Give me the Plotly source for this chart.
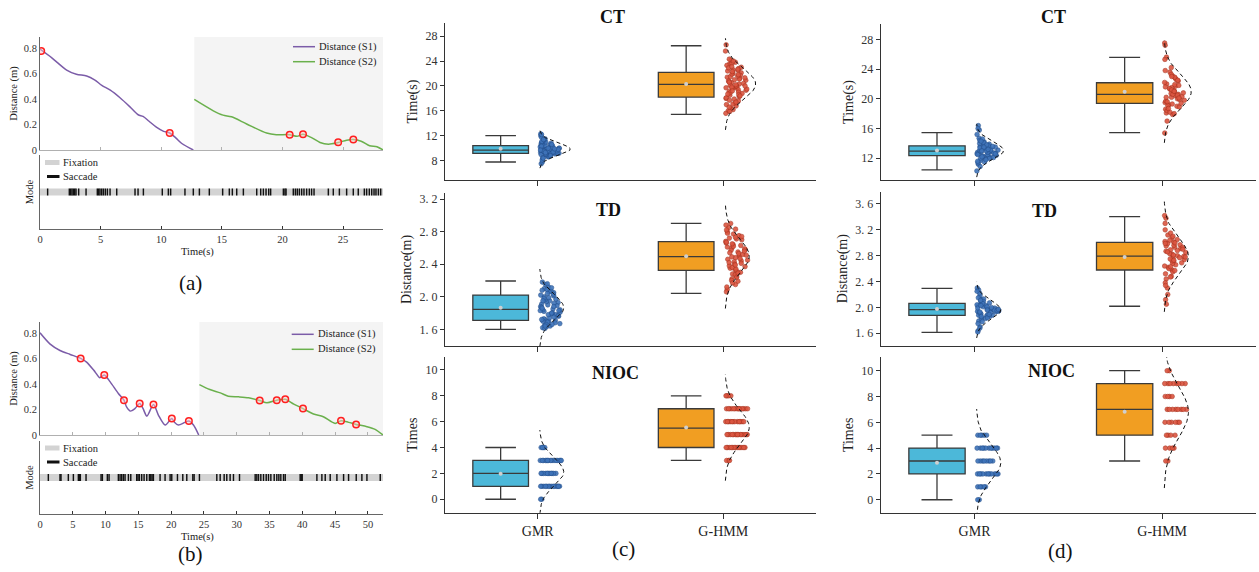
import numpy as np
import plotly.graph_objects as go

W, H = 1259, 572
FONT = "Liberation Serif"

# ------------------------------------------------------------------ data (a)
a_s1_t = [0, 1.0, 2.2, 3.0, 3.85, 4.5, 5.1, 5.8, 6.6, 7.4, 8.1, 8.5, 9.0, 9.6, 10.2, 10.7, 11.2, 11.7, 12.65]
a_s1_d = [0.79, 0.72, 0.626, 0.593, 0.58, 0.55, 0.506, 0.468, 0.409, 0.34, 0.276, 0.263, 0.225, 0.179, 0.146, 0.133, 0.095, 0.051, 0.0]
a_s2_t = [12.73, 14.3, 15.1, 15.8, 17.05, 18.7, 19.5, 20.6, 21.2, 21.7, 22.4, 23.1, 23.8, 24.6, 25.3, 25.85, 26.5, 27.2, 27.8, 28.3]
a_s2_d = [0.396, 0.307, 0.273, 0.26, 0.204, 0.133, 0.12, 0.12, 0.107, 0.123, 0.097, 0.059, 0.046, 0.059, 0.077, 0.082, 0.069, 0.033, 0.026, 0.0]
a_mark_t = [0.1, 10.7, 20.6, 21.7, 24.6, 25.85]
a_mark_d = [0.775, 0.133, 0.12, 0.123, 0.06, 0.082]
a_end = 28.3
a_saccades = [0.63, 2.42, 2.53, 2.64, 2.75, 2.86, 2.97, 3.19, 3.80, 4.73, 4.84, 4.95, 5.09, 5.23, 5.39,
              5.56, 5.78, 6.33, 7.84, 8.09, 8.53, 10.09, 10.59, 10.78, 11.96, 12.65, 13.15, 13.97,
              15.07, 15.62, 15.87, 16.23, 16.78, 17.88, 18.21, 18.43, 18.65, 18.87, 19.03, 20.08,
              20.21, 20.30, 20.90, 21.07, 21.23, 21.40, 21.59, 21.78, 22.00, 22.22, 22.41, 22.61,
              23.79, 24.20, 24.70, 25.30, 25.85, 26.26, 26.76, 26.95, 27.17, 27.37, 27.56, 27.72,
              27.92, 28.11]

# ------------------------------------------------------------------ data (b)
b_s1_t = [0, 1.5, 3.05, 4.6, 6.2, 7.1, 8.4, 9.1, 9.8, 10.7, 11.95, 12.8, 13.2, 13.8, 14.5, 15.2, 15.7,
          16.3, 17.3, 18.05, 19.1, 20.1, 20.5, 21.1, 22.1, 22.7, 23.4, 24.2]
b_s1_d = [0.80, 0.714, 0.662, 0.631, 0.60, 0.571, 0.494, 0.449, 0.47, 0.416, 0.325, 0.273, 0.22, 0.187,
          0.208, 0.247, 0.208, 0.148, 0.239, 0.156, 0.078, 0.13, 0.100, 0.078, 0.099, 0.109, 0.078, 0.0]
b_s2_t = [24.3, 25.9, 27.5, 28.7, 30.3, 31.8, 33.5, 34.6, 36.1, 37.4, 38.7, 40.1, 41.7, 43.2, 45.0,
          45.9, 47.05, 48.2, 49.85, 51.1, 52.3]
b_s2_d = [0.395, 0.356, 0.33, 0.304, 0.299, 0.291, 0.27, 0.252, 0.273, 0.28, 0.242, 0.207, 0.164,
          0.143, 0.091, 0.112, 0.099, 0.083, 0.065, 0.044, 0.0]
b_mark_t = [6.2, 9.8, 12.8, 15.2, 17.3, 20.1, 22.7, 33.5, 36.1, 37.4, 40.1, 45.9, 48.2]
b_mark_d = [0.60, 0.47, 0.273, 0.247, 0.239, 0.13, 0.109, 0.27, 0.273, 0.28, 0.207, 0.112, 0.083]
b_end = 52.3
b_saccades = [1.27, 3.05, 3.2, 4.32, 5.09, 5.85, 6.0, 6.15, 7.02, 9.31, 9.51, 10.27, 10.53, 11.95,
              12.21, 12.46, 12.72, 12.97, 13.48, 13.84, 14.75, 14.95, 15.16, 15.51, 15.87, 16.28,
              16.68, 16.89, 17.09, 17.29, 18.31, 19.07, 19.84, 20.09, 20.96, 21.77, 22.38, 23.30,
              23.50, 24.31, 26.96, 27.47, 28.08, 28.48, 28.99, 29.50, 30.42, 32.81, 33.06, 33.32,
              33.67, 34.08, 34.49, 34.84, 35.20, 35.71, 36.11, 36.42, 36.72, 37.13, 37.39, 39.67,
              39.83, 39.98, 42.22, 42.98, 43.49, 44.25, 45.27, 46.29, 47.05, 48.22, 49.08, 49.85,
              51.88]

# ------------------------------------------------------------------ data (c)/(d)
categories = ["GMR", "G-HMM"]

c_ct_gmr = [9.7, 10.2, 9.1, 9.8, 10.5, 8.9, 9.4, 10.0, 11.2, 9.6, 8.6, 10.8, 9.3, 9.9, 12.3, 7.5, 10.1,
            9.5, 8.8, 10.4, 9.2, 11.0, 9.7, 10.6, 8.3, 9.0, 10.3, 9.8, 11.5, 9.4, 10.9, 8.7, 9.6, 10.2,
            9.1, 12.0, 7.8, 9.9, 10.7, 9.3, 8.5, 10.0, 11.3, 9.5, 10.4, 8.9, 9.7, 10.1, 11.8, 9.2, 8.1,
            10.5, 9.6, 9.0, 10.8, 9.4, 11.1, 9.8, 8.4, 10.3, 9.9, 9.1, 10.6, 12.2, 9.5, 8.8, 10.0, 9.7,
            11.4, 9.3]
c_ct_ghmm = [20.3, 18.5, 22.1, 19.7, 21.4, 17.2, 23.5, 20.9, 16.4, 19.1, 22.8, 21.0, 18.0, 24.1, 20.5,
             17.6, 19.9, 22.4, 21.7, 16.0, 23.0, 19.4, 20.1, 18.8, 22.6, 15.6, 21.2, 19.6, 23.8, 17.9,
             20.7, 18.3, 22.0, 25.6, 19.0, 21.5, 16.8, 20.0, 23.3, 18.6, 21.9, 19.3, 17.1, 22.9, 20.4,
             26.6, 18.1, 21.1, 19.8, 16.2, 23.6, 20.8, 17.4, 22.3, 19.5, 21.6, 18.9, 24.0, 20.2, 17.0,
             22.5, 19.2, 21.3, 15.9, 20.6, 18.4, 23.1, 19.7, 21.8, 17.7, 20.0, 24.3, 18.7, 22.7, 16.6]
c_td_gmr = [1.85, 1.72, 2.05, 1.63, 1.91, 1.78, 2.10, 1.67, 1.95, 1.82, 2.01, 1.70, 1.88, 2.15, 1.65,
            1.76, 1.99, 1.84, 2.07, 1.69, 1.93, 1.80, 1.62, 2.03, 1.74, 1.87, 2.12, 1.66, 1.97, 1.79,
            2.08, 1.71, 1.90, 1.83, 1.64, 2.00, 1.77, 2.18, 1.86, 1.68, 1.94, 1.81, 2.06, 1.73, 1.89,
            1.61, 2.02, 1.75, 1.96, 1.84, 2.09, 1.70, 1.92, 1.78, 2.16, 1.66, 1.98, 1.83, 2.04, 1.72,
            1.88, 1.64, 2.11, 1.80, 1.95]
c_td_ghmm = [2.50, 2.35, 2.70, 2.22, 2.61, 2.44, 2.85, 2.15, 2.55, 2.38, 2.75, 2.28, 2.66, 2.47, 2.09,
             2.58, 2.33, 2.80, 2.41, 2.64, 2.19, 2.53, 2.72, 2.30, 2.48, 2.88, 2.25, 2.60, 2.37, 2.77,
             2.12, 2.52, 2.43, 2.68, 2.31, 2.57, 2.83, 2.20, 2.46, 2.63, 2.36, 2.74, 2.27, 2.54, 2.90,
             2.40, 2.67, 2.17, 2.49, 2.59, 2.34, 2.78, 2.24, 2.62, 2.45, 2.71, 2.06, 2.56, 2.39, 2.82,
             2.29, 2.65, 2.51, 2.73, 2.42]
c_nioc_gmr_levels = [0, 1, 2, 3, 4]
c_nioc_gmr_counts = [2, 14, 11, 15, 4]
c_nioc_ghmm_levels = [3, 4, 5, 6, 7, 8]
c_nioc_ghmm_counts = [3, 13, 14, 12, 14, 4]

d_ct_gmr = [12.9, 13.4, 12.1, 13.8, 12.6, 14.2, 11.7, 13.1, 12.4, 13.6, 12.0, 14.7, 12.8, 13.3, 11.2,
            13.9, 12.5, 13.0, 16.4, 12.2, 13.5, 11.9, 14.0, 12.7, 13.2, 10.3, 13.7, 12.3, 15.8, 12.9,
            13.4, 11.5, 14.4, 12.6, 13.1, 12.0, 13.6, 12.8, 15.2, 11.8, 13.3, 12.4, 14.1, 12.9, 10.9,
            13.0, 12.5, 13.8, 12.2, 14.6, 13.2, 11.4, 12.7, 13.5, 12.1, 16.0, 13.0, 12.6, 14.3, 11.6]
d_ct_ghmm = [20.6, 19.2, 22.4, 21.0, 18.6, 23.1, 20.2, 19.8, 21.7, 18.1, 22.8, 20.9, 19.5, 23.6, 21.3,
             17.9, 20.4, 22.0, 19.0, 21.5, 24.2, 20.0, 18.4, 22.6, 21.1, 19.7, 23.3, 20.7, 18.9, 21.9,
             27.5, 20.3, 19.3, 22.2, 17.0, 21.4, 20.8, 18.2, 23.8, 19.9, 21.2, 25.6, 20.5, 19.1, 22.9,
             15.4, 21.6, 20.1, 18.7, 22.5, 27.2, 19.6, 21.8, 20.6, 18.0, 23.0, 25.3, 19.4, 21.0, 20.2]
d_td_gmr = [1.96, 2.05, 1.88, 2.12, 1.92, 1.83, 2.01, 1.97, 2.18, 1.90, 1.86, 2.08, 1.94, 2.27, 1.79,
            1.99, 2.03, 1.91, 1.70, 2.10, 1.95, 1.87, 2.15, 1.93, 1.64, 2.02, 1.98, 1.85, 2.07, 1.89,
            2.30, 1.96, 1.82, 2.04, 1.92, 1.75, 2.13, 1.97, 1.88, 2.00, 1.62, 1.94, 2.09, 1.90, 1.84,
            2.06, 1.99, 2.22, 1.86, 1.95, 2.01, 1.93, 1.78, 2.11, 1.97, 1.89, 2.03, 1.68, 1.96, 2.25]
d_td_ghmm = [2.80, 2.62, 3.05, 2.71, 2.95, 2.48, 3.12, 2.85, 2.58, 2.99, 2.30, 2.76, 3.02, 2.66, 2.89,
             2.20, 2.93, 3.20, 2.55, 2.82, 2.74, 3.08, 2.44, 2.97, 2.68, 2.87, 3.38, 2.60, 2.79, 3.01,
             2.38, 2.91, 2.72, 2.64, 3.15, 2.83, 2.05, 2.96, 2.52, 2.77, 3.04, 2.69, 2.88, 3.30, 2.57,
             2.81, 2.99, 2.47, 2.75, 2.93, 2.12, 2.86, 3.10, 2.63, 2.78, 3.00, 2.34, 2.90, 2.73, 3.42]
d_nioc_gmr_levels = [0, 1, 2, 3, 4, 5]
d_nioc_gmr_counts = [2, 5, 11, 8, 11, 5]
d_nioc_ghmm_levels = [3, 4, 5, 6, 7, 8, 9, 10]
d_nioc_ghmm_counts = [2, 4, 4, 6, 8, 4, 8, 2]

# box statistics: [GMR, G-HMM]
c_ct_box = dict(lower=[7.79, 15.43], q1=[9.18, 18.21], median=[9.71, 20.25], q3=[10.41, 22.17], upper=[12.01, 26.45], mean=[9.93, 20.3])
c_td_box = dict(lower=[1.60, 2.042], q1=[1.71, 2.324], median=[1.846, 2.492], q3=[2.021, 2.676], upper=[2.193, 2.90], mean=[1.866, 2.496])
c_nioc_box = dict(lower=[0, 3], q1=[1, 4], median=[2, 5.5], q3=[3, 7], upper=[4, 8], mean=[1.98, 5.54])
d_ct_box = dict(lower=[10.45, 15.44], q1=[12.35, 19.39], median=[12.95, 20.6], q3=[13.68, 22.16], upper=[15.44, 25.57], mean=[13.05, 20.95])
d_td_box = dict(lower=[1.615, 2.018], q1=[1.878, 2.579], median=[1.965, 2.795], q3=[2.064, 3.007], upper=[2.296, 3.403], mean=[1.976, 2.78])
d_nioc_box = dict(lower=[0, 3], q1=[2, 5], median=[3, 7], q3=[4, 9], upper=[5, 10], mean=[2.87, 6.82])

ct_ticks_c = [8, 12, 16, 20, 24, 28]
ct_ticks_d = [12, 16, 20, 24, 28]
td_ticks_c = [1.6, 2.0, 2.4, 2.8, 3.2]
td_ticks_d = [1.6, 2.0, 2.4, 2.8, 3.2, 3.6]
nioc_ticks = [0, 2, 4, 6, 8, 10]

# ------------------------------------------------------------------ helpers
def PX(x):
    return x / W


def PY(y):
    return 1 - y / H


def expand(levels, counts):
    return list(np.repeat(levels, counts).astype(float))


AX = dict(showgrid=False, zeroline=False, showline=True, linecolor="#333333", linewidth=1.2,
          tickfont=dict(family=FONT, size=12, color="#222222"), tickcolor="#333333")

# pixel boxes: (left, right, top, bottom)
boxes = {
    1: (40, 383, 37, 150),      # a top
    2: (40, 383, 155, 229),     # a mode
    3: (40, 383, 322, 435),     # b top
    4: (40, 383, 441, 514),     # b mode
    5: (445, 816, 23, 180),     # c CT
    6: (445, 816, 193, 346),    # c TD
    7: (445, 816, 357, 512.7),  # c NIOC
    8: (880.7, 1256, 24, 180),  # d CT
    9: (880.7, 1256, 191.7, 345.7),  # d TD
    10: (880.7, 1256, 357, 512.7),   # d NIOC
}

layout = dict(width=W, height=H, margin=dict(l=0, r=0, t=0, b=0, autoexpand=False),
              paper_bgcolor="white", plot_bgcolor="white",
              font=dict(family=FONT, color="#222222", size=12), showlegend=False,
              annotations=[], shapes=[])


def key(n, ax):
    return f"{ax}axis" + ("" if n == 1 else str(n))


def ref(n, ax):
    return ax + ("" if n == 1 else str(n))


for n, (l, r, t, b) in boxes.items():
    layout[key(n, "x")] = dict(AX, domain=[PX(l), PX(r)], anchor=ref(n, "y"))
    layout[key(n, "y")] = dict(AX, domain=[PY(b), PY(t)], anchor=ref(n, "x"))

traces = []


def text(s, x, y, size, xanchor="center", bold=False, color="#222222"):
    layout["annotations"].append(dict(text=("<b>%s</b>" % s) if bold else s, x=PX(x), y=PY(y),
                                      xref="paper", yref="paper", showarrow=False, xanchor=xanchor,
                                      yanchor="middle", font=dict(family=FONT, size=size, color=color)))


def legend_key(x0, x1, y, color, width):
    layout["shapes"].append(dict(type="line", xref="paper", yref="paper", x0=PX(x0), x1=PX(x1),
                                 y0=PY(y), y1=PY(y), line=dict(color=color, width=width)))


# ------------------------------------------------------------------ (a) and (b)
S1_COL, S2_COL = "#7b5ca8", "#6ab04c"


def line_panel(n_top, n_mode, s1t, s1d, s2t, s2d, mt, md, end, sacc, half, dticks,
               leg_top_y, leg_mode_y, time_y, leg_x):
    xt, yt = key(n_top, "x"), key(n_top, "y")
    xm, ym = key(n_mode, "x"), key(n_mode, "y")
    tf = dict(family=FONT, size=10.5, color="#333")
    layout[xt].update(range=[0, end], showticklabels=False, ticks="inside", ticklen=3, tickvals=dticks,
                      linecolor="#b0b0b0", linewidth=1, tickcolor="#b0b0b0")
    layout[yt].update(range=[0, 0.885], tickvals=[0, 0.2, 0.4, 0.6, 0.8],
                      ticktext=["0", "0.2", "0.4", "0.6", "0.8"], ticks="", tickfont=tf,
                      linecolor="#666", linewidth=1,
                      title=dict(text="Distance (m)", font=dict(family=FONT, size=10.5), standoff=4))
    layout[xm].update(range=[0, end], tickvals=dticks, ticks="inside", ticklen=3, tickfont=tf,
                      linecolor="#666", linewidth=1)
    layout[ym].update(range=[0, 1], showticklabels=False, ticks="", linecolor="#666", linewidth=1,
                      title=dict(text="Mode", font=dict(family=FONT, size=10.5), standoff=3))
    layout["shapes"].append(dict(type="rect", xref=ref(n_top, "x"), yref=ref(n_top, "y") + " domain",
                                 x0=s2t[0], x1=end, y0=0, y1=1, fillcolor="#f4f4f4",
                                 line=dict(width=0), layer="below"))
    xa, ya = ref(n_top, "x"), ref(n_top, "y")
    traces.append(go.Scatter(x=s1t, y=s1d, mode="lines", line=dict(color=S1_COL, width=1.5, shape="spline", smoothing=0.8),
                             name="Distance (S1)", xaxis=xa, yaxis=ya))
    traces.append(go.Scatter(x=s2t, y=s2d, mode="lines", line=dict(color=S2_COL, width=1.5, shape="spline", smoothing=0.8),
                             name="Distance (S2)", xaxis=xa, yaxis=ya))
    traces.append(go.Scatter(x=mt, y=md, mode="markers", xaxis=xa, yaxis=ya, name="marks",
                             marker=dict(symbol="circle", size=6.5, color="rgba(255,200,200,0.5)",
                                         line=dict(color="#ff1f1f", width=1.5))))
    xa, ya = ref(n_mode, "x"), ref(n_mode, "y")
    traces.append(go.Scatter(x=[0, end], y=[0.5, 0.5], mode="lines", line=dict(color="#d3d3d3", width=7),
                             name="Fixation", xaxis=xa, yaxis=ya))
    sx, sy = [], []
    for s in sacc:
        sx += [s - half, s + half, None]
        sy += [0.5, 0.5, None]
    traces.append(go.Scatter(x=sx, y=sy, mode="lines", line=dict(color="#111111", width=7),
                             name="Saccade", xaxis=xa, yaxis=ya, connectgaps=False))
    # legends
    legend_key(leg_x, leg_x + 22, leg_top_y, S1_COL, 1.5)
    text("Distance (S1)", leg_x + 24, leg_top_y, 10.5, "left")
    legend_key(leg_x, leg_x + 22, leg_top_y + 15, S2_COL, 1.5)
    text("Distance (S2)", leg_x + 24, leg_top_y + 15, 10.5, "left")
    legend_key(45, 59.5, leg_mode_y, "#d3d3d3", 5)
    text("Fixation", 60.5, leg_mode_y, 10.5, "left")
    legend_key(47, 59.5, leg_mode_y + 14, "#111111", 3)
    text("Saccade", 60.5, leg_mode_y + 14, 10.5, "left")
    text("Time(s)", 197, time_y, 10.5)


line_panel(1, 2, a_s1_t, a_s1_d, a_s2_t, a_s2_d, a_mark_t, a_mark_d, a_end, a_saccades, 0.06,
           [0, 5, 10, 15, 20, 25], 46.7, 162.5, 251.5, 293)
line_panel(3, 4, b_s1_t, b_s1_d, b_s2_t, b_s2_d, b_mark_t, b_mark_d, b_end, b_saccades, 0.11,
           list(range(0, 51, 5)), 334.3, 448, 536.5, 291.7)

# ------------------------------------------------------------------ (c) and (d)
BOX_FILL = ["#4cb8d9", "#f19e22"]
PT_FILL = ["#3f74ba", "#dc5641"]
PT_EDGE = ["#234f8c", "#a6331f"]


def rain_panel(n, data, stats, yrange, yticks, yticktext, ytitle, show_cat, title, title_xy, peak, h_frac, discrete):
    xa, ya = ref(n, "x"), ref(n, "y")
    layout[key(n, "x")].update(range=[-0.5, 1.5], tickvals=[0, 1], ticktext=categories,
                               showticklabels=show_cat, ticks="outside", ticklen=5,
                               tickfont=dict(family=FONT, size=14, color="#222"))
    layout[key(n, "y")].update(range=yrange, tickvals=yticks, ticktext=yticktext, ticks="outside", ticklen=4,
                               tickfont=dict(family=FONT, size=12, color="#333"),
                               title=dict(text=ytitle, font=dict(family=FONT, size=14), standoff=4))
    for i in range(2):
        traces.append(go.Box(x=[i - 0.2], q1=[stats["q1"][i]], median=[stats["median"][i]], q3=[stats["q3"][i]],
                             lowerfence=[stats["lower"][i]], upperfence=[stats["upper"][i]],
                             width=0.3, whiskerwidth=0.55, fillcolor=BOX_FILL[i], boxpoints=False,
                             line=dict(color="#3a3a3a", width=1.3), xaxis=xa, yaxis=ya,
                             name=categories[i], hoverinfo="skip"))
        traces.append(go.Scatter(x=[i - 0.2], y=[stats["mean"][i]], mode="markers", xaxis=xa, yaxis=ya,
                                 marker=dict(size=4, color="#cfcfcf"), name="mean", hoverinfo="skip"))
        v = np.asarray(data[i], float)
        h = 0.3 if discrete else h_frac * (v.max() - v.min())
        dens = np.array([(np.abs(v - vi) <= h).sum() for vi in v], float)
        u = ((np.arange(len(v)) + 1) * 0.6180339887) % 1.0
        xs = i + 0.012 + u * 0.12 * dens / dens.max()
        traces.append(go.Scatter(x=xs, y=v, mode="markers", xaxis=xa, yaxis=ya, name=categories[i],
                                 marker=dict(size=4.6, color=PT_FILL[i], opacity=0.9,
                                             line=dict(color=PT_EDGE[i], width=0.6)), hoverinfo="skip"))
        m, s = v.mean(), v.std(ddof=1)
        yy = np.linspace(m - 3 * s, m + 3 * s, 150)
        pdf = np.exp(-0.5 * ((yy - m) / s) ** 2)
        traces.append(go.Scatter(x=i + 0.01 + peak * pdf, y=yy, mode="lines", xaxis=xa, yaxis=ya,
                                 line=dict(color="#111111", width=1, dash="4px,3px"), name="density",
                                 hoverinfo="skip"))
    text(title, title_xy[0], title_xy[1], 18, bold=True, color="#111")


td_text = lambda ts: [("%.1f" % t).replace(".", ". ") for t in ts]

rain_panel(5, [c_ct_gmr, c_ct_ghmm], c_ct_box, [4.9, 30.1], ct_ticks_c, [str(t) for t in ct_ticks_c],
           "Time(s)", False, "CT", (612, 17), 0.165, 0.12, False)
rain_panel(6, [c_td_gmr, c_td_ghmm], c_td_box, [1.395, 3.274], td_ticks_c, td_text(td_ticks_c),
           "Distance(m)", False, "TD", (608, 210), 0.13, 0.12, False)
rain_panel(7, [expand(c_nioc_gmr_levels, c_nioc_gmr_counts), expand(c_nioc_ghmm_levels, c_nioc_ghmm_counts)],
           c_nioc_box, [-1.04, 11.0], nioc_ticks, [str(t) for t in nioc_ticks],
           "Times", True, "NIOC", (615, 373), 0.13, 0.1, True)
rain_panel(8, [d_ct_gmr, d_ct_ghmm], d_ct_box, [9.08, 30.06], ct_ticks_d, [str(t) for t in ct_ticks_d],
           "Time(s)", False, "CT", (1053, 17), 0.145, 0.12, False)
rain_panel(9, [d_td_gmr, d_td_ghmm], d_td_box, [1.408, 3.79], td_ticks_d, td_text(td_ticks_d),
           "Distance(m)", False, "TD", (1044, 211), 0.13, 0.12, False)
rain_panel(10, [expand(d_nioc_gmr_levels, d_nioc_gmr_counts), expand(d_nioc_ghmm_levels, d_nioc_ghmm_counts)],
           d_nioc_box, [-1.005, 11.06], nioc_ticks, [str(t) for t in nioc_ticks],
           "Times", True, "NIOC", (1051, 371), 0.13, 0.1, True)

# panel labels
for txt, x, y in [("(a)", 190, 283), ("(b)", 190, 554), ("(c)", 623, 549), ("(d)", 1060, 551)]:
    text(txt, x, y, 21, color="#111")

fig = go.Figure(data=traces, layout=layout)
fig.write_html("out.html", config={"displayModeBar": False},
               post_script="document.body.style.margin='0px';document.body.style.padding='0px';")
